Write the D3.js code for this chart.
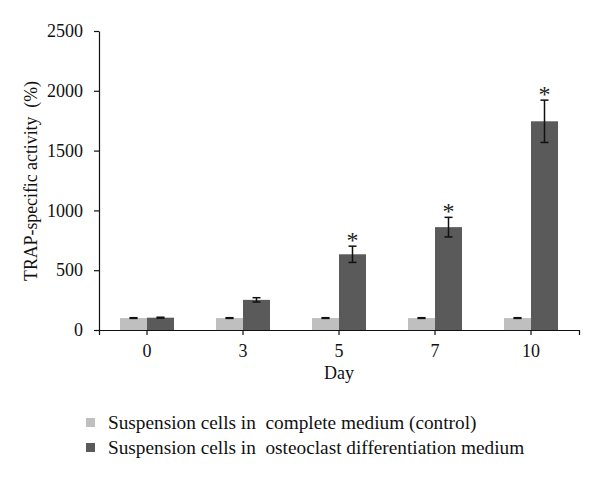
<!DOCTYPE html>
<html>
<head>
<meta charset="utf-8">
<script src="https://cdn.jsdelivr.net/npm/d3@7"></script>
<style>
  html, body { margin: 0; padding: 0; background: #fff; }
  text { font-family: "Liberation Serif", "Times New Roman", serif; fill: #111; }
</style>
</head>
<body>
<svg id="chart" width="600" height="478"></svg>
<script>
const days = ["0", "3", "5", "7", "10"];
const controlValues = [100, 100, 100, 100, 100];
const controlErrors = [3, 3, 3, 3, 3];
const osteoValues = [103, 252, 633, 860, 1745];
const osteoErrors = [4, 18, 68, 82, 177];
const significant = [false, false, true, true, true];
const yTicks = [0, 500, 1000, 1500, 2000, 2500];
const seriesNames = ["Suspension cells in  complete medium (control)",
                     "Suspension cells in  osteoclast differentiation medium"];
const seriesColors = ["#bfbfbf", "#5a5a5a"];

(function () {
const svg = d3.select("#chart");
const mLeft = 99, mRight = 579, mTop = 31, mBottom = 330;

const x = d3.scaleBand().domain(days).range([mLeft, mRight]).padding(0);
const xs = d3.scaleBand().domain([0, 1]).range([0, x.bandwidth()]).paddingInner(0).paddingOuter(0.778);
const y = d3.scaleLinear().domain([0, 2500]).range([mBottom, mTop]);

const series = [
  { vals: controlValues, errs: controlErrors },
  { vals: osteoValues, errs: osteoErrors }
];
series.forEach((s, si) => {
  const g = svg.append("g");
  g.selectAll("rect").data(days).join("rect")
    .attr("x", d => x(d) + xs(si))
    .attr("y", (d, i) => y(s.vals[i]))
    .attr("width", xs.bandwidth())
    .attr("height", (d, i) => y(0) - y(s.vals[i]))
    .attr("fill", seriesColors[si]);
  days.forEach((d, i) => {
    const cx = x(d) + xs(si) + xs.bandwidth() / 2;
    const y1 = y(s.vals[i] + s.errs[i]);
    const y2 = y(s.vals[i] - s.errs[i]);
    g.append("line").attr("x1", cx).attr("x2", cx).attr("y1", y1).attr("y2", y2)
      .attr("stroke", "#111").attr("stroke-width", 1.5);
    [y1, y2].forEach(yy => g.append("line")
      .attr("x1", cx - 4).attr("x2", cx + 4).attr("y1", yy).attr("y2", yy)
      .attr("stroke", "#111").attr("stroke-width", 1.5));
  });
});

days.forEach((d, i) => {
  if (!significant[i]) return;
  const cx = x(d) + xs(1) + xs.bandwidth() / 2;
  svg.append("text")
    .attr("x", cx).attr("y", y(osteoValues[i] + osteoErrors[i]) + 2)
    .attr("text-anchor", "middle").style("font-size", "24px")
    .style("fill", "#222")
    .text("*");
});

const yAxis = d3.axisLeft(y).tickValues(yTicks).tickFormat(d3.format("d"))
  .tickSize(5).tickSizeOuter(0).tickPadding(11);
const yg = svg.append("g").attr("transform", `translate(${mLeft},0)`).call(yAxis);
yg.selectAll("text").style("font-size", "18px");

const xAxis = d3.axisBottom(x).tickSize(5).tickSizeOuter(5).tickPadding(9);
const xg = svg.append("g").attr("transform", `translate(0,${mBottom})`).call(xAxis);
xg.selectAll("text").style("font-size", "18px");

svg.selectAll(".domain, .tick line").attr("stroke", "#111").attr("stroke-width", 1.2);

svg.append("text")
  .attr("transform", `translate(37,181) rotate(-90)`)
  .attr("text-anchor", "middle").style("font-size", "17.8px")
  .style("white-space", "pre")
  .text("TRAP-specific activity  (%)");
svg.append("text")
  .attr("x", (mLeft + mRight) / 2).attr("y", 379)
  .attr("text-anchor", "middle").style("font-size", "18px")
  .text("Day");

seriesNames.forEach((name, i) => {
  const yy = 418 + i * 25;
  svg.append("rect").attr("x", 86).attr("y", yy).attr("width", 9).attr("height", 9)
    .attr("fill", seriesColors[i]);
  svg.append("text").attr("x", 108).attr("y", yy + 11)
    .style("font-size", "19.3px").style("white-space", "pre")
    .text(name);
});
})();
</script>
</body>
</html>
